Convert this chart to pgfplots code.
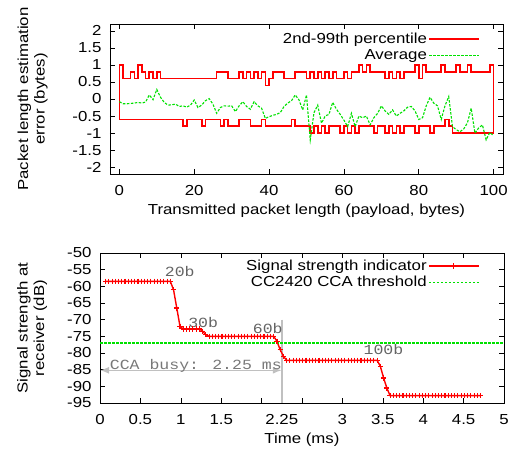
\documentclass[border=0pt]{standalone}
\usepackage{pgfplots}
\pgfplotsset{compat=1.18}
\usepackage{fontspec}
\setmainfont{Liberation Sans}[FakeStretch=1.16]
\newfontfamily\courier{Liberation Mono}[FakeStretch=1.18]
\usetikzlibrary{arrows.meta}
\definecolor{gpred}{RGB}{255,0,0}
\definecolor{gpgreen}{RGB}{0,225,0}
\definecolor{gpgray}{RGB}{192,192,192}
\definecolor{txtgray}{RGB}{100,100,100}
\definecolor{busygray}{RGB}{120,120,120}

\pgfplotsset{
  gpstyle/.style={
    scale only axis,
    clip=false,
    font=\fontsize{14.5}{16.5}\selectfont,
    tick align=inside,
    major tick length=5pt,
    axis line style={line width=0.8pt},
    every tick/.style={black, line width=0.6pt},
    /pgf/number format/assume math mode=true,
    tick label style={font=\fontsize{14.5}{16.5}\selectfont},
    label style={font=\fontsize{14.5}{16.5}\selectfont},
    xticklabel style={yshift=-7.5pt},
    yticklabel style={xshift=-5pt},
    legend plot pos=right,
    legend cell align=right,
    legend style={draw=none, fill=none, anchor=north east, row sep=1.5pt, inner sep=0pt,
                  nodes={inner sep=1.5pt}, font=\fontsize{14.5}{16.5}\selectfont},
    legend image code/.code={\draw[mark repeat=2,mark phase=2,#1] plot coordinates {(0pt,0pt) (25pt,0pt) (50pt,0pt)};},
  }
}

\begin{document}
\begin{tikzpicture}
\useasboundingbox (0,0) rectangle (517pt,454pt);

% ---------------- top plot ----------------
\begin{axis}[gpstyle,
  at={(110pt,280pt)}, anchor=south west,
  width=393pt, height=150pt,
  xmin=-2.5, xmax=102.5, ymin=-2.2, ymax=2.2,
  xtick={0,20,40,60,80,100},
  ytick={-2,-1.5,-1,-0.5,0,0.5,1,1.5,2},
  xlabel={Transmitted packet length (payload, bytes)},
  ylabel={Packet length estimation\\error (bytes)},
  ylabel style={align=center, at={(axis description cs:-0.197,0.5)}, anchor=center},
  xlabel style={at={(axis description cs:0.5,0)}, anchor=center, yshift=-37pt},
  legend style={at={(rel axis cs:0.942,0.95)}},
]
% 99th percentile (upper step line), closed at x=100
\addplot[red, line width=1.6pt, const plot, line join=miter,
  legend image code/.code={\draw[red, line width=1.6pt] (0pt,0pt) -- (50pt,0pt);}] coordinates {
 (0,1) (1,0.6) (3,0.8) (4,0.6) (5,1) (6,0.8) (7,0.6) (8,0.8) (9,0.6) (10,0.8) (11,0.6)
 (26,0.8) (29,0.6) (32,0.8) (33,0.6) (34,0.8) (35,0.6) (36,0.8) (37,0.6) (38,0.8) (39,0.4) (40,0.6)
 (41,0.8) (44,0.6) (47,0.8) (50,0.6) (51,0.8) (52,0.6) (53,0.8) (54,0.6) (55,0.8) (56,0.6) (57,0.8)
 (58,0.6) (60,0.8) (61,0.6) (62,0.8) (64,1) (65,0.8) (66,1) (67,0.8) (71,0.6) (72,0.8) (73,0.6)
 (74,0.8) (75,0.6) (76,0.8) (79,1) (80,0.6) (81,1) (82,0.8) (86,1) (87,0.8) (90,1) (91,0.8) (93,1)
 (94,0.8) (99,1) (100,1) (100,-1)
};
\addlegendentry{2nd-99th percentile}
% 2nd percentile (lower step line), closed at x=0
\addplot[red, line width=1.6pt, const plot, line join=miter, forget plot] coordinates {
 (0,1) (0,-0.6) (17,-0.8) (18,-0.6) (22,-0.8) (23,-0.6) (27,-0.8) (28,-0.6) (29,-0.8) (32,-0.6) (35,-0.8)
 (38,-0.6) (39,-0.8) (46,-0.6) (47,-0.8) (51,-1) (52,-0.8) (53,-1) (54,-0.8) (55,-1) (56,-0.8)
 (59,-1) (60,-0.8) (61,-1) (62,-0.8) (63,-1) (64,-0.8) (68,-1) (69,-0.8) (71,-1) (72,-0.8) (73,-1)
 (74,-0.8) (75,-1) (76,-0.8) (79,-1) (80,-0.8) (83,-1) (84,-0.8) (87,-0.6) (88,-0.8) (89,-1) (100,-1)
};
\addplot[gpgreen, line width=1.1pt, dash pattern=on 2.5pt off 1.5pt] coordinates {
 (0,-0.08) (1,-0.14) (2,-0.14) (3,-0.13) (4,-0.12) (5,-0.10) (6,-0.12) (7,-0.09) (8,0.12) (9,-0.02)
 (10,0.28) (11,0.05) (12,-0.10) (13,-0.18) (14,-0.17) (15,-0.15) (16,-0.22) (17,-0.20) (18,-0.24) (19,-0.18)
 (20,-0.03) (21,-0.25) (22,-0.18) (23,-0.05) (24,0.01) (25,-0.15) (26,-0.42) (27,-0.25) (28,-0.20) (29,-0.21)
 (30,-0.20) (31,-0.37) (32,-0.20) (33,-0.08) (34,-0.22) (35,-0.30) (36,-0.08) (37,-0.20) (38,-0.27) (39,-0.57)
 (40,-0.52) (41,-0.48) (42,-0.45) (43,-0.40) (44,-0.22) (45,-0.12) (46,-0.05) (47,0.12) (48,-0.03) (49,-0.32)
 (50,0.12) (51,-1.20) (52,-0.40) (53,-0.18) (54,-0.71) (55,-0.50) (56,-0.45) (57,-0.10) (58,-0.30) (59,-0.45)
 (60,-0.62) (61,-0.81) (62,-0.42) (63,-0.81) (64,-0.50) (65,-0.55) (66,-0.50) (67,-0.76) (68,-0.55) (69,-0.42)
 (70,-0.20) (71,-0.35) (72,-0.45) (73,-0.32) (74,-0.50) (75,-0.42) (76,-0.35) (77,-0.24) (78,-0.22) (79,-0.35)
 (80,-0.60) (81,-0.55) (82,-0.20) (83,0.05) (84,-0.12) (85,-0.20) (86,-0.60) (87,-0.20) (88,0.07) (89,-0.81)
 (90,-0.90) (91,-0.96) (92,-0.88) (93,-0.70) (94,-0.27) (95,-1.00) (96,-0.85) (97,-0.76) (98,-1.20) (99,-0.98)
 (100,-1.08)
};
\addlegendentry{Average}
\end{axis}

% ---------------- bottom plot ----------------
\begin{axis}[gpstyle,
  at={(100pt,51pt)}, anchor=south west,
  width=404pt, height=150pt,
  xmin=0, xmax=5, ymin=-95, ymax=-50,
  xtick={0,0.5,1,1.5,2,2.5,3,3.5,4,4.5,5},
  xticklabels={0,0.5,1,1.5,{},{},3,3.5,4,4.5,5},
  extra x ticks={2.25},
  extra x tick labels={2.25},
  extra x tick style={major tick length=0pt},
  ytick={-95,-90,-85,-80,-75,-70,-65,-60,-55,-50},
  xlabel={Time (ms)},
  ylabel={Signal strength at\\receiver (dB)},
  ylabel style={align=center, at={(axis description cs:-0.168,0.5)}, anchor=center},
  xlabel style={at={(axis description cs:0.5,0)}, anchor=center, yshift=-37pt},
  legend style={at={(rel axis cs:0.94,0.965)}},
]
\addplot[gpgray, line width=1.5pt, forget plot] coordinates {(2.25,-70) (2.25,-95)};
\addplot[gpgray, line width=1.5pt, {Latex[length=9pt,width=7pt]}-{Latex[length=9pt,width=7pt]}, forget plot]
  coordinates {(0,-85.2) (2.25,-85.2)};
\addplot[red, line width=1.4pt, mark=+, mark size=2.6pt, mark options={line width=1.1pt, solid},
  legend image code/.code={\draw[red, line width=1.4pt] (0pt,0pt) -- (50pt,0pt);
    \draw[red, line width=1.1pt] (25pt,-2.6pt) -- (25pt,2.6pt);}] coordinates {
 (0.07,-58.5) (0.11,-58.5) (0.15,-58.5) (0.19,-58.5) (0.23,-58.5) (0.27,-58.5) (0.31,-58.5) (0.35,-58.5)
 (0.39,-58.5) (0.43,-58.5) (0.47,-58.5) (0.51,-58.5) (0.55,-58.5) (0.59,-58.5) (0.63,-58.5) (0.67,-58.5)
 (0.71,-58.5) (0.75,-58.5) (0.79,-58.5) (0.83,-58.5) (0.87,-58.5)
 (0.91,-61) (0.95,-66.5) (0.99,-72)
 (1.03,-72.8) (1.07,-72.8) (1.11,-72.8) (1.15,-72.8) (1.19,-72.8) (1.23,-72.8) (1.27,-73.5) (1.31,-74.5)
 (1.35,-75) (1.39,-75) (1.43,-75) (1.47,-75) (1.51,-75) (1.55,-75) (1.59,-75) (1.63,-75) (1.67,-75)
 (1.71,-75) (1.75,-75) (1.79,-75) (1.83,-75) (1.87,-75) (1.91,-75) (1.95,-75) (1.99,-75) (2.03,-75)
 (2.07,-75) (2.11,-75) (2.15,-75)
 (2.19,-76.5) (2.23,-79) (2.27,-81)
 (2.31,-82.2) (2.35,-82.2) (2.39,-82.2) (2.43,-82.2) (2.47,-82.2) (2.51,-82.2) (2.55,-82.2) (2.59,-82.2)
 (2.63,-82.2) (2.67,-82.2) (2.71,-82.2) (2.75,-82.2) (2.79,-82.2) (2.83,-82.2) (2.87,-82.2) (2.91,-82.2)
 (2.95,-82.2) (2.99,-82.2) (3.03,-82.2) (3.07,-82.2) (3.11,-82.2) (3.15,-82.2) (3.19,-82.2) (3.23,-82.2)
 (3.27,-82.2) (3.31,-82.2) (3.35,-82.2) (3.39,-82.2) (3.43,-82.2)
 (3.47,-84) (3.51,-87.5) (3.55,-90.5)
 (3.59,-92.8) (3.63,-92.8) (3.67,-92.8) (3.71,-92.8) (3.75,-92.8) (3.79,-92.8) (3.83,-92.8) (3.87,-92.8)
 (3.91,-92.8) (3.95,-92.8) (3.99,-92.8) (4.03,-92.8) (4.07,-92.8) (4.11,-92.8) (4.15,-92.8) (4.19,-92.8)
 (4.23,-92.8) (4.27,-92.8) (4.31,-92.8) (4.35,-92.8) (4.39,-92.8) (4.43,-92.8) (4.47,-92.8) (4.51,-92.8)
 (4.55,-92.8) (4.59,-92.8) (4.63,-92.8) (4.67,-92.8) (4.71,-92.8)
};
\addlegendentry{Signal strength indicator}
\addplot[gpgreen, line width=1.1pt, dash pattern=on 2.5pt off 1.5pt] coordinates {(0,-77) (5,-77)};
\addlegendentry{CC2420 CCA threshold}
\node[anchor=base west, inner sep=0pt, text=txtgray, font=\courier\fontsize{14}{16}\selectfont] at (axis cs:0.80,-57.2) {20b};
\node[anchor=base west, inner sep=0pt, text=txtgray, font=\courier\fontsize{14}{16}\selectfont] at (axis cs:1.09,-72.5) {30b};
\node[anchor=base west, inner sep=0pt, text=txtgray, font=\courier\fontsize{14}{16}\selectfont] at (axis cs:1.89,-74.1) {60b};
\node[anchor=base west, inner sep=0pt, text=txtgray, font=\courier\fontsize{14}{16}\selectfont] at (axis cs:3.26,-80.4) {100b};
\node[anchor=base west, inner sep=0pt, text=busygray, font=\courier\fontsize{14}{16}\selectfont] at (axis cs:0.12,-84.9) {CCA busy: 2.25 ms};
\end{axis}
\end{tikzpicture}
\end{document}
